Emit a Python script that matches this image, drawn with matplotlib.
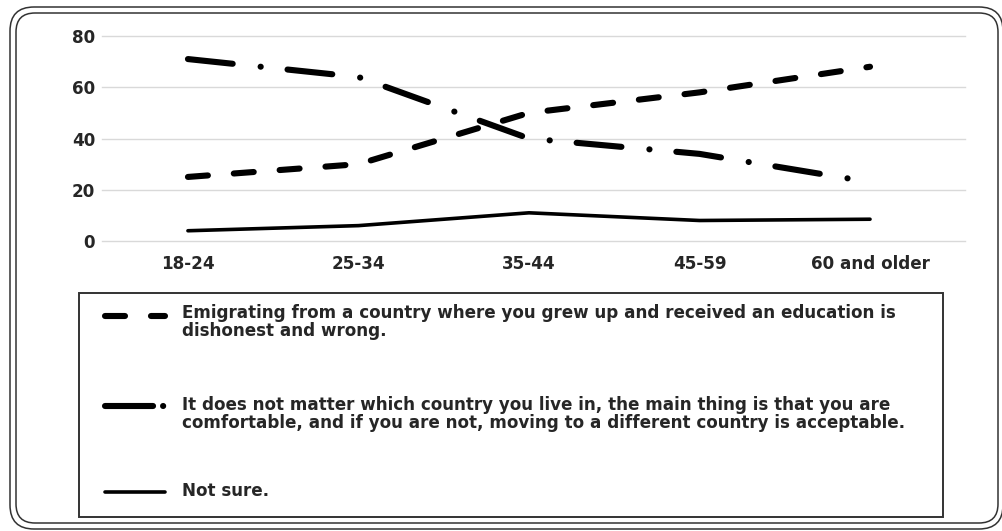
import matplotlib
matplotlib.use("Agg")
import matplotlib.pyplot as plt
from matplotlib.patches import FancyBboxPatch, Rectangle
from matplotlib.lines import Line2D
from matplotlib.transforms import Affine2D

# ---- data -------------------------------------------------------------
age_groups = ["18-24", "25-34", "35-44", "45-59", "60 and older"]
emigrating_wrong = [25, 30, 50, 58, 68]
country_does_not_matter = [71, 64, 40, 34, 23]
not_sure = [4, 6, 11, 8, 8.5]
y_ticks = [0, 20, 40, 60, 80]

series_labels = [
    ["Emigrating from a country where you grew up and received an education is",
     "dishonest and wrong."],
    ["It does not matter which country you live in, the main thing is that you are",
     "comfortable, and if you are not, moving to a different country is acceptable."],
    ["Not sure."],
]

# ---- styling ----------------------------------------------------------
plt.rcParams["font.family"] = ["DejaVu Sans"]
plt.rcParams["font.weight"] = "bold"
plt.rcParams["lines.scale_dashes"] = False

W, H, DPI = 1002, 531, 100
TEXT = "#262626"
FS = 12.1

fig = plt.figure(figsize=(W / DPI, H / DPI), dpi=DPI)
fig.patch.set_facecolor("white")

# pixel transform with origin at the bottom-left of the figure
px = Affine2D().scale(1 / DPI) + fig.dpi_scale_trans


def box(x_left, y_top, width, height):
    """Convert a top-left based pixel box to a bottom-left anchor."""
    return (x_left, H - y_top - height), width, height


# double rounded frame around the whole chart
for (x0, y0, w, h), r in [((10, 7, 993, 522), 24), ((16, 13, 982, 510), 19)]:
    xy, bw, bh = box(x0, y0, w, h)
    fig.patches.append(FancyBboxPatch(xy, bw, bh,
                                      boxstyle=f"round,pad=0,rounding_size={r}",
                                      transform=px, fill=False, ec="#333333", lw=1.1))

# plot area
left, right, top, bottom = 102, 965, 36, 241
ax = fig.add_axes([left / W, 1 - bottom / H, (right - left) / W, (bottom - top) / H])
ax.set_facecolor("none")
x = list(range(len(age_groups)))

dash_style = dict(color="black", lw=4.4, linestyle=(0, (14.4, 18.7)),
                  dash_capstyle="round", solid_capstyle="round")
dashdot_style = dict(color="black", lw=4.4, linestyle=(0, (32.4, 20.2, 0.1, 19.4)),
                     dash_capstyle="round", solid_capstyle="round")
solid_style = dict(color="black", lw=2.6, solid_capstyle="round")

ax.plot(x, emigrating_wrong, **dash_style, clip_on=False)
ax.plot(x, country_does_not_matter, **dashdot_style, clip_on=False)
ax.plot(x, not_sure, **solid_style, clip_on=False)

ax.set_xlim(-0.504, 4.557)
ax.set_ylim(0, 80)
ax.set_yticks(y_ticks)
ax.set_xticks(x)
ax.set_xticklabels(age_groups)
ax.grid(axis="y", color="#d9d9d9", lw=1.0)
for gl in ax.get_ygridlines():
    gl.set_clip_on(False)
ax.set_axisbelow(True)
for s in ax.spines.values():
    s.set_visible(False)
ax.tick_params(axis="both", length=0, labelsize=FS, labelcolor=TEXT)
ax.tick_params(axis="y", pad=5)
ax.tick_params(axis="x", pad=10)

# legend box
xy, bw, bh = box(79, 293, 864, 224)
fig.patches.append(Rectangle(xy, bw, bh, transform=px,
                             fill=False, ec="#333333", lw=1.4))
legend_handle_styles = [
    dash_style,
    dict(dashdot_style, linestyle=(0, (34.6, 7.2, 0.1, 50))),
    solid_style,
]
handle_y = [316, 406, 492]
first_baseline = [318.5, 410, 495.5]
line_pitch = 17.5
for style, hy, base, lines in zip(legend_handle_styles, handle_y, first_baseline,
                                  series_labels):
    fig.add_artist(Line2D([105, 165], [H - hy, H - hy], transform=px, **style))
    for i, line in enumerate(lines):
        fig.text(182, H - (base + i * line_pitch), line, transform=px, fontsize=FS,
                 color=TEXT, ha="left", va="baseline", fontweight="bold")

fig.savefig("out.png", dpi=DPI)
